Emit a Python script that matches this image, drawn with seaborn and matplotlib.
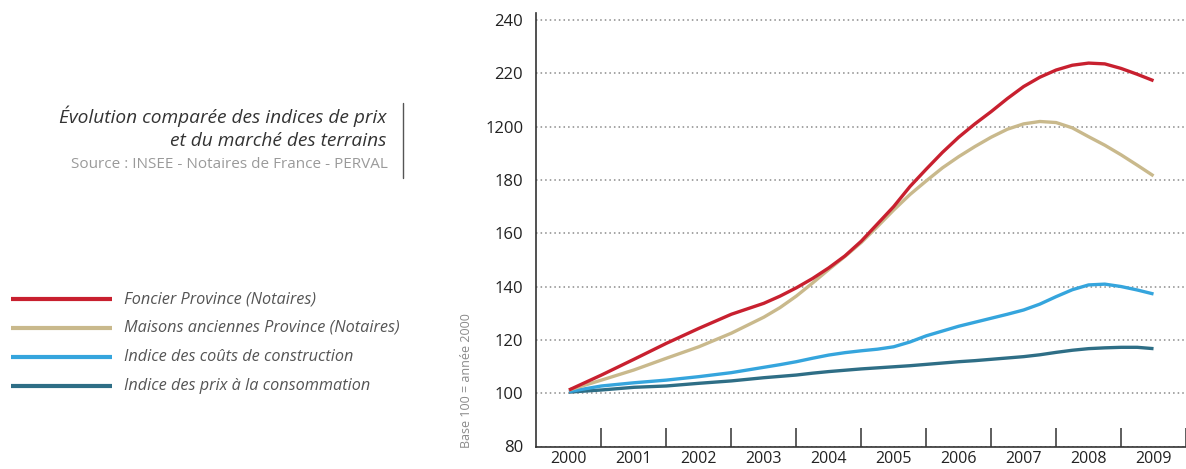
import matplotlib
matplotlib.use("Agg")
import matplotlib.pyplot as plt
from matplotlib.lines import Line2D
import pandas as pd
import seaborn as sns

# Index values, base 100 = year 2000 (half-yearly to 2003, then quarterly)
periods = [2000.0, 2000.5, 2001.0, 2001.5, 2002.0, 2002.5, 2003.0, 2003.25,
           2003.5, 2003.75, 2004.0, 2004.25, 2004.5, 2004.75, 2005.0, 2005.25,
           2005.5, 2005.75, 2006.0, 2006.25, 2006.5, 2006.75, 2007.0, 2007.25,
           2007.5, 2007.75, 2008.0, 2008.25, 2008.5, 2008.75, 2009.0]
foncier = [101.2, 106.8, 112.7, 118.7, 124.3, 129.6, 133.7, 136.4,
           139.5, 143.0, 147.0, 151.5, 157.0, 163.5, 170.0, 177.5,
           184.0, 190.3, 196.0, 201.0, 205.6, 210.5, 215.0, 218.5,
           221.2, 223.0, 223.8, 223.5, 221.8, 219.6, 217.2]
maisons = [101.2, 104.9, 108.7, 113.1, 117.4, 122.5, 128.5, 132.1,
           136.4, 141.3, 146.4, 151.3, 156.5, 162.5, 168.7, 174.5,
           179.6, 184.5, 188.7, 192.5, 196.0, 199.0, 201.0, 201.9,
           201.5, 199.5, 196.2, 193.0, 189.4, 185.5, 181.5]
construction = [100.6, 102.7, 103.9, 104.9, 106.2, 107.7, 109.7, 110.7,
                111.8, 113.1, 114.3, 115.2, 115.9, 116.5, 117.4, 119.2,
                121.5, 123.3, 125.1, 126.6, 128.1, 129.6, 131.2, 133.4,
                136.2, 138.8, 140.6, 140.9, 140.0, 138.7, 137.2]
consommation = [100.4, 101.2, 102.2, 102.7, 103.7, 104.6, 105.8, 106.3,
                106.8, 107.5, 108.1, 108.6, 109.1, 109.5, 109.9, 110.3,
                110.8, 111.3, 111.8, 112.2, 112.7, 113.2, 113.7, 114.4,
                115.3, 116.1, 116.7, 117.0, 117.2, 117.2, 116.7]

series_names = ["Foncier Province (Notaires)",
                "Maisons anciennes Province (Notaires)",
                "Indice des coûts de construction",
                "Indice des prix à la consommation"]
series_values = [foncier, maisons, construction, consommation]
series_colors = ["#C8202F", "#C9B98C", "#35A5DD", "#2E6E86"]

years = [2000, 2001, 2002, 2003, 2004, 2005, 2006, 2007, 2008, 2009]
year_labels = ["2000", "2001", "2002", "2003", "2004", "2005", "2006", "2007", "2008", "2009"]
y_ticks = [80, 100, 120, 140, 160, 180, 200, 220, 240]
y_tick_labels = ["80", "100", "120", "140", "160", "180", "1200", "220", "240"]

sns.set_theme(style="white")
plt.rcParams["font.family"] = ["Open Sans", "DejaVu Sans"]

W, H = 1186, 469
fig = plt.figure(figsize=(W / 100, H / 100), dpi=100)
ax = fig.add_axes([535.7 / W, 1 - 446.5 / H, (W - 535.7) / W, (446.5 - 12.7) / H])

frames = []
for name, vals in zip(series_names, series_values):
    frames.append(pd.DataFrame({"année": periods, "indice": vals, "série": name}))
df = pd.concat(frames, ignore_index=True)
palette = dict(zip(series_names, series_colors))

# draw the lower indices first so the land price curve sits on top
for name in reversed(series_names):
    sns.lineplot(data=df[df["série"] == name], x="année", y="indice", color=palette[name],
                 linewidth=2.4, sort=False, errorbar=None, legend=False, ax=ax,
                 solid_capstyle="butt", solid_joinstyle="round")

ax.set_xlim(1999.488, 2009.5)
ax.set_ylim(80, 242.7)

# separator ticks between years, labels centred on each year
ax.set_xticks([y + 0.5 for y in years])
ax.set_xticklabels([])
ax.tick_params(axis="x", which="major", direction="in", length=13.6, width=1.1,
               color="#333333", bottom=True)
ax.set_xticks(years, minor=True)
ax.set_xticklabels(year_labels, minor=True)
ax.tick_params(axis="x", which="minor", length=0, pad=3.5, labelsize=11.5, labelcolor="#222222")

ax.set_yticks(y_ticks, y_tick_labels)
ax.tick_params(axis="y", length=0, pad=9, labelsize=12, labelcolor="#222222")

ax.yaxis.grid(True, linestyle=(0, (1, 2)), color="#8a8a8a", linewidth=1.1)
ax.xaxis.grid(False)
ax.set_axisbelow(True)
ax.set_xlabel("")
ax.set_ylabel("")

for side in ("top", "right"):
    ax.spines[side].set_visible(False)
for side in ("left", "bottom"):
    ax.spines[side].set_color("#333333")
    ax.spines[side].set_linewidth(1.2)

fig.text(466 / W, 1 - 381 / H, "Base 100 = année 2000", rotation=90, ha="center", va="center",
         fontsize=9, color="#8a8a8a")

# title block
fig.text(386 / W, 1 - 116 / H, "Évolution comparée des indices de prix", ha="right", va="center",
         style="italic", fontsize=13.8, color="#333333")
fig.text(386 / W, 1 - 141 / H, "et du marché des terrains", ha="right", va="center",
         style="italic", fontsize=13.8, color="#333333")
fig.text(388 / W, 1 - 164 / H, "Source : INSEE - Notaires de France - PERVAL", ha="right",
         va="center", fontsize=11, color="#9a9a9a")
fig.add_artist(Line2D([403 / W, 403 / W], [1 - 103 / H, 1 - 178 / H], color="#555555",
                      linewidth=1.0, transform=fig.transFigure))

# legend
legend_rows = [299, 327.7, 356.7, 386]
for name, col, yy in zip(series_names, series_colors, legend_rows):
    fig.add_artist(Line2D([11 / W, 112 / W], [1 - yy / H, 1 - yy / H], color=col, linewidth=3.0,
                          solid_capstyle="butt", transform=fig.transFigure))
    fig.text(124 / W, 1 - yy / H, name, ha="left", va="center", style="italic", fontsize=11.7,
             color="#555555")

fig.savefig("out.png", dpi=100)
